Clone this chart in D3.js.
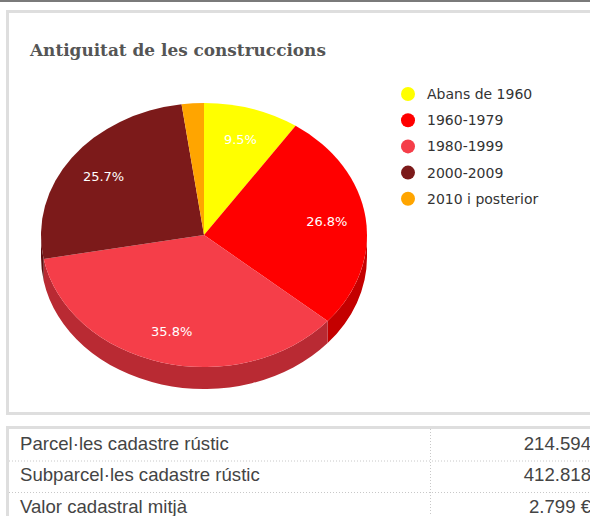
<!DOCTYPE html>
<html>
<head>
<meta charset="utf-8">
<script src="https://cdn.jsdelivr.net/npm/d3@7"></script>
<style>
  body { margin: 0; background: #fff; }
  svg { display: block; }
</style>
</head>
<body>
<div id="chart"></div>
<script>
// chart data
var categories = ["Abans de 1960", "1960-1979", "1980-1999", "2000-2009", "2010 i posterior"];
var values = [9.5, 26.8, 35.8, 25.7, 2.2];
var colors = ["#ffff00", "#ff0000", "#f53e49", "#7c1a1a", "#ffa500"];
var sideColors = ["#cccc00", "#c40000", "#b92a33", "#5a1010", "#cc8400"];

// table data
var rowLabels = ["Parcel·les cadastre rústic", "Subparcel·les cadastre rústic", "Valor cadastral mitjà"];
var rowValues = ["214.594", "412.818", "2.799 €"];

var W = 590, H = 516;
var svg = d3.select("#chart").append("svg")
      .attr("width", W)
      .attr("height", H)

svg.append("rect").attr("x", 0).attr("y", 0).attr("width", W).attr("height", 2).attr("fill", "#7a7a7a")

// chart box
svg.append("rect").attr("x", 7.5).attr("y", 11.5).attr("width", 600).attr("height", 402)
  .attr("fill", "#fff").attr("stroke", "#dedede").attr("stroke-width", 3)

svg.append("text")
  .attr("x", 30).attr("y", 56)
  .attr("font-family", "'DejaVu Serif', serif")
  .attr("font-weight", "bold")
  .attr("font-size", 16.9)
  .attr("fill", "#555")
  .text("Antiguitat de les construccions")

// pie
var cx = 204, cy = 235, rx = 163, ry = 132, depth = 22;

var pie = d3.pie().sort(null).value(d => d)
var arcs = pie(values)

function pt(a, dy) {
  return [rx * Math.sin(a), -ry * Math.cos(a) + (dy || 0)]
}

var g = svg.append("g").attr("transform", "translate(" + cx + "," + cy + ")")

// visible side walls (front half: angles between PI/2 and 3PI/2)
arcs.forEach(function (d, i) {
  var a0 = Math.max(d.startAngle, Math.PI / 2)
  var a1 = Math.min(d.endAngle, 3 * Math.PI / 2)
  if (a1 <= a0) return
  var p0 = pt(a0), p1 = pt(a1), q1 = pt(a1, depth), q0 = pt(a0, depth)
  var path = "M" + p0 + "A" + rx + "," + ry + " 0 0 1 " + p1 +
    "L" + q1 + "A" + rx + "," + ry + " 0 0 0 " + q0 + "Z"
  g.append("path").attr("d", path).attr("fill", sideColors[i])
})

// top face: circle arcs squashed to an ellipse
var arc = d3.arc().innerRadius(0).outerRadius(rx)
g.append("g")
  .attr("transform", "scale(1," + (ry / rx) + ")")
  .selectAll("path")
  .data(arcs)
  .join("path")
  .attr("d", arc)
  .attr("fill", (d, i) => colors[i])

// labels
g.selectAll(".lbl")
  .data(arcs.filter(d => d.data >= 5))
  .join("text")
  .attr("class", "lbl")
  .attr("x", d => 0.76 * pt((d.startAngle + d.endAngle) / 2)[0])
  .attr("y", d => 0.76 * pt((d.startAngle + d.endAngle) / 2)[1])
  .attr("text-anchor", "middle")
  .attr("dominant-baseline", "central")
  .attr("font-family", "'DejaVu Sans', sans-serif")
  .attr("font-size", 13)
  .attr("fill", "#fff")
  .text(d => d.data.toFixed(1) + "%")

// legend
var legend = svg.append("g").attr("transform", "translate(408,94)")
var items = legend.selectAll("g")
  .data(categories)
  .join("g")
  .attr("transform", (d, i) => "translate(0," + (i * 26.2) + ")")
items.append("circle").attr("r", 7).attr("fill", (d, i) => colors[i])
items.append("text")
  .attr("x", 19).attr("dy", "0.35em")
  .attr("font-family", "'DejaVu Sans', sans-serif")
  .attr("font-size", 14)
  .attr("fill", "#333")
  .text(d => d)

// table
svg.append("rect").attr("x", 7.5).attr("y", 427.5).attr("width", 600).attr("height", 120)
  .attr("fill", "#fff").attr("stroke", "#dedede").attr("stroke-width", 3)

var rowTop = 429, rowH = 31.5;
var rows = svg.selectAll(".row")
  .data(rowLabels)
  .join("g")
  .attr("class", "row")
  .attr("transform", (d, i) => "translate(0," + (rowTop + i * rowH) + ")")

rows.filter((d, i) => i > 0).append("line")
  .attr("x1", 9).attr("x2", W).attr("y1", 0.5).attr("y2", 0.5)
  .attr("stroke", "#c8c8c8").attr("stroke-dasharray", "1,2")

rows.append("text")
  .attr("x", 20).attr("y", rowH / 2 + 5)
  .attr("font-family", "'Liberation Sans', Arial, sans-serif")
  .attr("font-size", 18.6)
  .attr("fill", "#444")
  .text(d => d)

rows.append("text")
  .attr("x", 591).attr("y", rowH / 2 + 5)
  .attr("text-anchor", "end")
  .attr("font-family", "'Liberation Sans', Arial, sans-serif")
  .attr("font-size", 18.6)
  .attr("fill", "#444")
  .text((d, i) => rowValues[i])

svg.append("line")
  .attr("x1", 430.5).attr("x2", 430.5).attr("y1", rowTop).attr("y2", H)
  .attr("stroke", "#c8c8c8").attr("stroke-dasharray", "1,2")
</script>
</body>
</html>
